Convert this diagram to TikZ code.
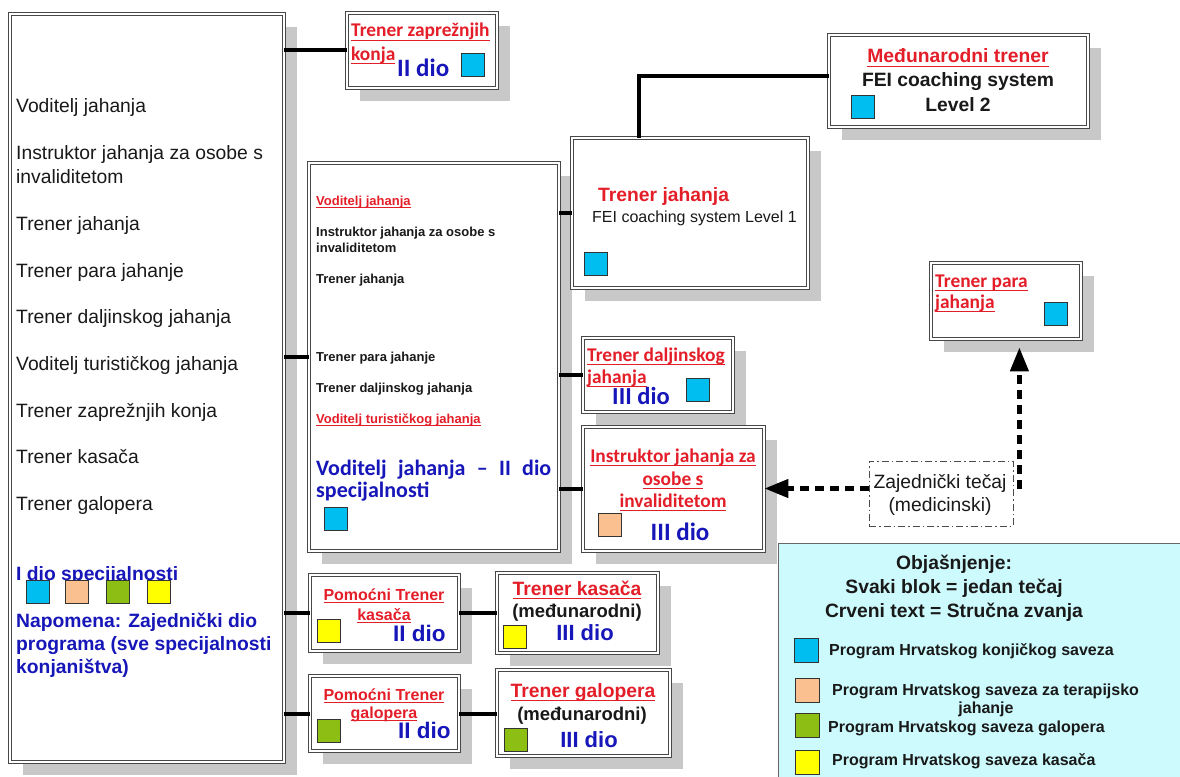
\documentclass[tikz,border=0pt]{standalone}
\usepackage{fontspec}
\setmainfont{Liberation Sans}
\newfontfamily\carl{Carlito}
\newsavebox\ulbox
\newcommand\ul[1]{\sbox\ulbox{#1}\rlap{\usebox\ulbox}\rule[-0.2em]{\wd\ulbox}{1.1pt}}
\usetikzlibrary{fit,arrows.meta}
\definecolor{tred}{RGB}{228,30,40}
\definecolor{tblue}{RGB}{22,22,185}
\definecolor{cyanbox}{RGB}{0,190,240}
\definecolor{peach}{RGB}{250,192,143}
\definecolor{grn}{RGB}{140,190,20}
\definecolor{yel}{RGB}{255,255,0}
\definecolor{shadowgray}{RGB}{200,200,200}
\definecolor{legbg}{RGB}{205,250,252}
\definecolor{txt}{RGB}{25,25,25}
\newcommand\fA{\fontsize{19.3}{23}\selectfont}
\newcommand\fS{\fontsize{13}{15}\selectfont}
\newcommand\fL{\fontsize{16}{19}\selectfont}
\newcommand\fC{\carl\bfseries\fontsize{19.4}{23}\selectfont}
\newcommand\fD{\carl\bfseries\fontsize{25}{30}\selectfont}
\newcommand\shadowrect[4]{\fill[shadowgray] (#1+13,#2+13) rectangle (#3+13,#4+13);}
\begin{document}
\begin{tikzpicture}[x=1pt,y=-1pt,
  frame/.style={draw=black!72, double=white, double distance=1.8pt, line width=0.9pt, fill=white, inner sep=0pt},
  sq/.style={draw=black!80, line width=0.8pt, minimum size=23pt, inner sep=0pt, anchor=north west},
  lbl/.style={inner sep=0pt, anchor=base west, text=txt},
  lblc/.style={inner sep=0pt, anchor=base, text=txt},
  conn/.style={line width=4pt, black},
  dasharrow/.style={line width=4.5pt, dash pattern=on 9pt off 6pt, -{Triangle[length=24pt,width=18pt]}},
  red/.style={text=tred},
  blu/.style={text=tblue}]
\useasboundingbox (0,0) rectangle (1180,776);
\clip (0,0) rectangle (1180,776);
\fill[white] (0,0) rectangle (1180,776);

% shadows
\shadowrect{10}{14}{284}{762}
\shadowrect{347}{13}{497}{88}
\shadowrect{309}{163}{559}{551}
\shadowrect{572}{138}{808}{288}
\shadowrect{829}{35}{1088}{127}
\shadowrect{931}{263}{1081}{339}
\shadowrect{583}{338}{733}{412}
\shadowrect{583}{427}{764}{551}
\shadowrect{310}{575}{459}{651}
\shadowrect{497}{573}{658}{653}
\shadowrect{310}{676}{459}{751}
\shadowrect{497}{670}{670}{756}

% frames
\node[frame, fit={(10,14) (284,762)}] (big) {};
\node[frame, fit={(347,13) (497,88)}] (zk) {};
\node[frame, fit={(309,163) (559,551)}] (vj) {};
\node[frame, fit={(572,138) (808,288)}] (tj) {};
\node[frame, fit={(829,35) (1088,127)}] (mt) {};
\node[frame, fit={(931,263) (1081,339)}] (para) {};
\node[frame, fit={(583,338) (733,412)}] (dal) {};
\node[frame, fit={(583,427) (764,551)}] (ins) {};
\node[frame, fit={(310,575) (459,651)}] (pk) {};
\node[frame, fit={(497,573) (658,653)}] (tk) {};
\node[frame, fit={(310,676) (459,751)}] (pg) {};
\node[frame, fit={(497,670) (670,756)}] (tg) {};
\node[draw=black!70, dash pattern=on 7pt off 3pt on 1.5pt off 3pt, line width=0.8pt, inner sep=0pt, fit={(869,461) (1013,526)}] (zt) {};
\node[fill=legbg, draw=black!60, line width=1pt, inner sep=0pt, fit={(778,543) (1200,800)}] (leg) {};

% big box text
\begin{scope}[every node/.style={lbl, font=\fA}]
\node (b1) at (16,112) {Voditelj jahanja};
\node (b2) at (16,159) {Instruktor jahanja za osobe s};
\node (b3) at (16,183) {invaliditetom};
\node (b4) at (16,230) {Trener jahanja};
\node (b5) at (16,277) {Trener para jahanje};
\node (b6) at (16,323) {Trener daljinskog jahanja};
\node (b7) at (16,370) {Voditelj turističkog jahanja};
\node (b8) at (16,417) {Trener zaprežnjih konja};
\node (b9) at (16,463) {Trener kasača};
\node (b10) at (16,510) {Trener galopera};
\node[blu, font=\fA\bfseries] (b11) at (16,580) {I dio specijalnosti};
\node[blu, font=\fA\bfseries] (b12) at (16,627) {Napomena: Zajednički dio};
\node[blu, font=\fA\bfseries] (b13) at (16,650) {programa (sve specijalnosti};
\node[blu, font=\fA\bfseries] (b14) at (16,673) {konjaništva)};
\end{scope}
\node[sq, fill=cyanbox] (bs1) at (26,580) {};
\node[sq, fill=peach] (bs2) at (65,580) {};
\node[sq, fill=grn] (bs3) at (106,580) {};
\node[sq, fill=yel] (bs4) at (147,580) {};

% Trener zapreznjih konja
\node[lbl, red, font=\fC] (zk1) at (351,37) {\ul{Trener zaprežnjih}};
\node[lbl, red, font=\fC] (zk2) at (351,60) {\ul{konja}};
\node[lbl, blu, font=\fD] (zk3) at (397,76) {II dio};
\node[sq, fill=cyanbox] (zks) at (461,53) {};

% Voditelj jahanja II
\begin{scope}[every node/.style={lbl, font=\fS\bfseries}]
\node[red] (v1) at (316,205) {\ul{Voditelj jahanja}};
\node (v2) at (316,236) {Instruktor jahanja za osobe s};
\node (v3) at (316,252) {invaliditetom};
\node (v4) at (316,283) {Trener jahanja};
\node (v5) at (316,361) {Trener para jahanje};
\node (v6) at (316,392) {Trener daljinskog jahanja};
\node[red] (v7) at (316,423) {\ul{Voditelj turističkog jahanja}};
\end{scope}
\node[lbl, blu, font=\carl\bfseries\fontsize{22}{26}\selectfont] (v8) at (316,475) {\makebox[235pt][s]{Voditelj jahanja – II dio}};
\node[lbl, blu, font=\carl\bfseries\fontsize{22}{26}\selectfont] (v9) at (316,497) {specijalnosti};
\node[sq, fill=cyanbox] (vs) at (324,507) {};

% Trener jahanja
\node[lbl, red, font=\fA\bfseries] (tj1) at (598,201) {Trener jahanja};
\node[lbl, font=\fL] (tj2) at (592,222) {FEI coaching system Level 1};
\node[sq, fill=cyanbox] (tjs) at (584,252) {};

% Medunarodni trener
\node[lblc, red, font=\fA\bfseries] (mt1) at (958,63) {\ul{Međunarodni trener}};
\node[lblc, font=\fA\bfseries] (mt2) at (958,86) {FEI coaching system};
\node[lblc, font=\fA\bfseries] (mt3) at (958,111) {Level 2};
\node[sq, fill=cyanbox] (mts) at (851,95) {};

% Trener para jahanja
\node[lbl, red, font=\fC] (p1) at (935,287) {\ul{Trener para}};
\node[lbl, red, font=\fC] (p2) at (935,308) {\ul{jahanja}};
\node[sq, fill=cyanbox] (ps) at (1044,302) {};

% Trener daljinskog jahanja
\node[lbl, red, font=\fC] (d1) at (587,361) {\ul{Trener daljinskog}};
\node[lbl, red, font=\fC] (d2) at (587,383) {\ul{jahanja}};
\node[lbl, blu, font=\carl\bfseries\fontsize{24.5}{29}\selectfont] (d3) at (612,404) {III dio};
\node[sq, fill=cyanbox] (ds) at (686,378) {};

% Instruktor
\node[lblc, red, font=\fC] (i1) at (673,462) {\ul{Instruktor jahanja za}};
\node[lblc, red, font=\fC] (i2) at (673,485) {\ul{osobe s}};
\node[lblc, red, font=\fC] (i3) at (673,507) {\ul{invaliditetom}};
\node[lblc, blu, font=\fD] (i4) at (680,540) {III dio};
\node[sq, fill=peach] (is) at (598,513) {};

% Zajednicki tecaj
\node[lblc, font=\fA] (z1) at (940,488) {Zajednički tečaj};
\node[lblc, font=\fA] (z2) at (940,511) {(medicinski)};

% Pomocni trener kasaca
\node[lblc, red, font=\fL\bfseries] (pk1) at (384,600) {\ul{Pomoćni Trener}};
\node[lblc, red, font=\fL\bfseries] (pk2) at (384,620) {\ul{kasača}};
\node[lbl, blu, font=\fontsize{22.5}{26}\selectfont\bfseries] (pk3) at (393,641) {II dio};
\node[sq, fill=yel] (pks) at (317,619) {};

% Trener kasaca
\node[lblc, red, font=\fA\bfseries] (tk1) at (577,595) {\ul{Trener kasača}};
\node[lblc, font=\fontsize{18.5}{22}\selectfont\bfseries] (tk2) at (577,617) {(međunarodni)};
\node[lblc, blu, font=\fontsize{22}{26}\selectfont\bfseries] (tk3) at (585,640) {III dio};
\node[sq, fill=yel] (tks) at (503,625) {};

% Pomocni trener galopera
\node[lblc, red, font=\fL\bfseries] (pg1) at (384,700) {\ul{Pomoćni Trener}};
\node[lblc, red, font=\fL\bfseries] (pg2) at (384,718) {\ul{galopera}};
\node[lbl, blu, font=\fontsize{22.5}{26}\selectfont\bfseries] (pg3) at (398,738) {II dio};
\node[sq, fill=grn] (pgs) at (317,719) {};

% Trener galopera
\node[lblc, red, font=\fA\bfseries] (tg1) at (583,697) {\ul{Trener galopera}};
\node[lblc, font=\fontsize{18.5}{22}\selectfont\bfseries] (tg2) at (582,720) {(međunarodni)};
\node[lblc, blu, font=\fontsize{22}{26}\selectfont\bfseries] (tg3) at (589,747) {III dio};
\node[sq, fill=grn] (tgs) at (504,728) {};

% Legend
\node[lblc, font=\fA\bfseries] (l1) at (954,569) {Objašnjenje:};
\node[lblc, font=\fA\bfseries] (l2) at (954,593) {Svaki blok = jedan tečaj};
\node[lblc, font=\fA\bfseries] (l3) at (954,617) {Crveni text = Stručna zvanja};
\node[sq, minimum size=24pt, fill=cyanbox] (ls1) at (794,638) {};
\node[sq, minimum size=24pt, fill=peach] (ls2) at (795,678) {};
\node[sq, minimum size=24pt, fill=grn] (ls3) at (795,713) {};
\node[sq, minimum size=24pt, fill=yel] (ls4) at (795,750) {};
\node[lbl, font=\fL\bfseries] (lt1) at (829,655) {Program Hrvatskog konjičkog saveza};
\node[lbl, font=\fL\bfseries] (lt2) at (832,695) {Program Hrvatskog saveza za terapijsko};
\node[lblc, font=\fL\bfseries] (lt2b) at (986,713) {jahanje};
\node[lbl, font=\fL\bfseries] (lt3) at (828,732) {Program Hrvatskog saveza galopera};
\node[lbl, font=\fL\bfseries] (lt4) at (832,765) {Program Hrvatskog saveza kasača};

% connectors
\draw[conn] (zk.west -| big.east) -- (zk.west);
\draw[conn] (vj.west -| big.east) -- (vj.west);
\draw[conn] (pk.west -| big.east) -- (pk.west);
\draw[conn] (pg.west -| big.east) -- (pg.west);
\draw[conn] (tj.west -| vj.east) -- (tj.west);
\draw[conn] (dal.west -| vj.east) -- (dal.west);
\draw[conn] (ins.west -| vj.east) -- (ins.west);
\draw[conn] (pk.east) -- (pk.east -| tk.west);
\draw[conn] (pg.east) -- (pg.east -| tg.west);
\draw[conn] ([xshift=-51pt]tj.north) |- ([yshift=5pt]mt.west);
\draw[dasharrow] ([yshift=5pt]zt.west) -- ([yshift=5pt]zt.west -| ins.east);
\draw[dasharrow, shorten >=13pt] ([shift={(6pt,5pt)}]zt.east) -- ([shift={(6pt,5pt)}]zt.east |- para.south);
\end{tikzpicture}
\end{document}
